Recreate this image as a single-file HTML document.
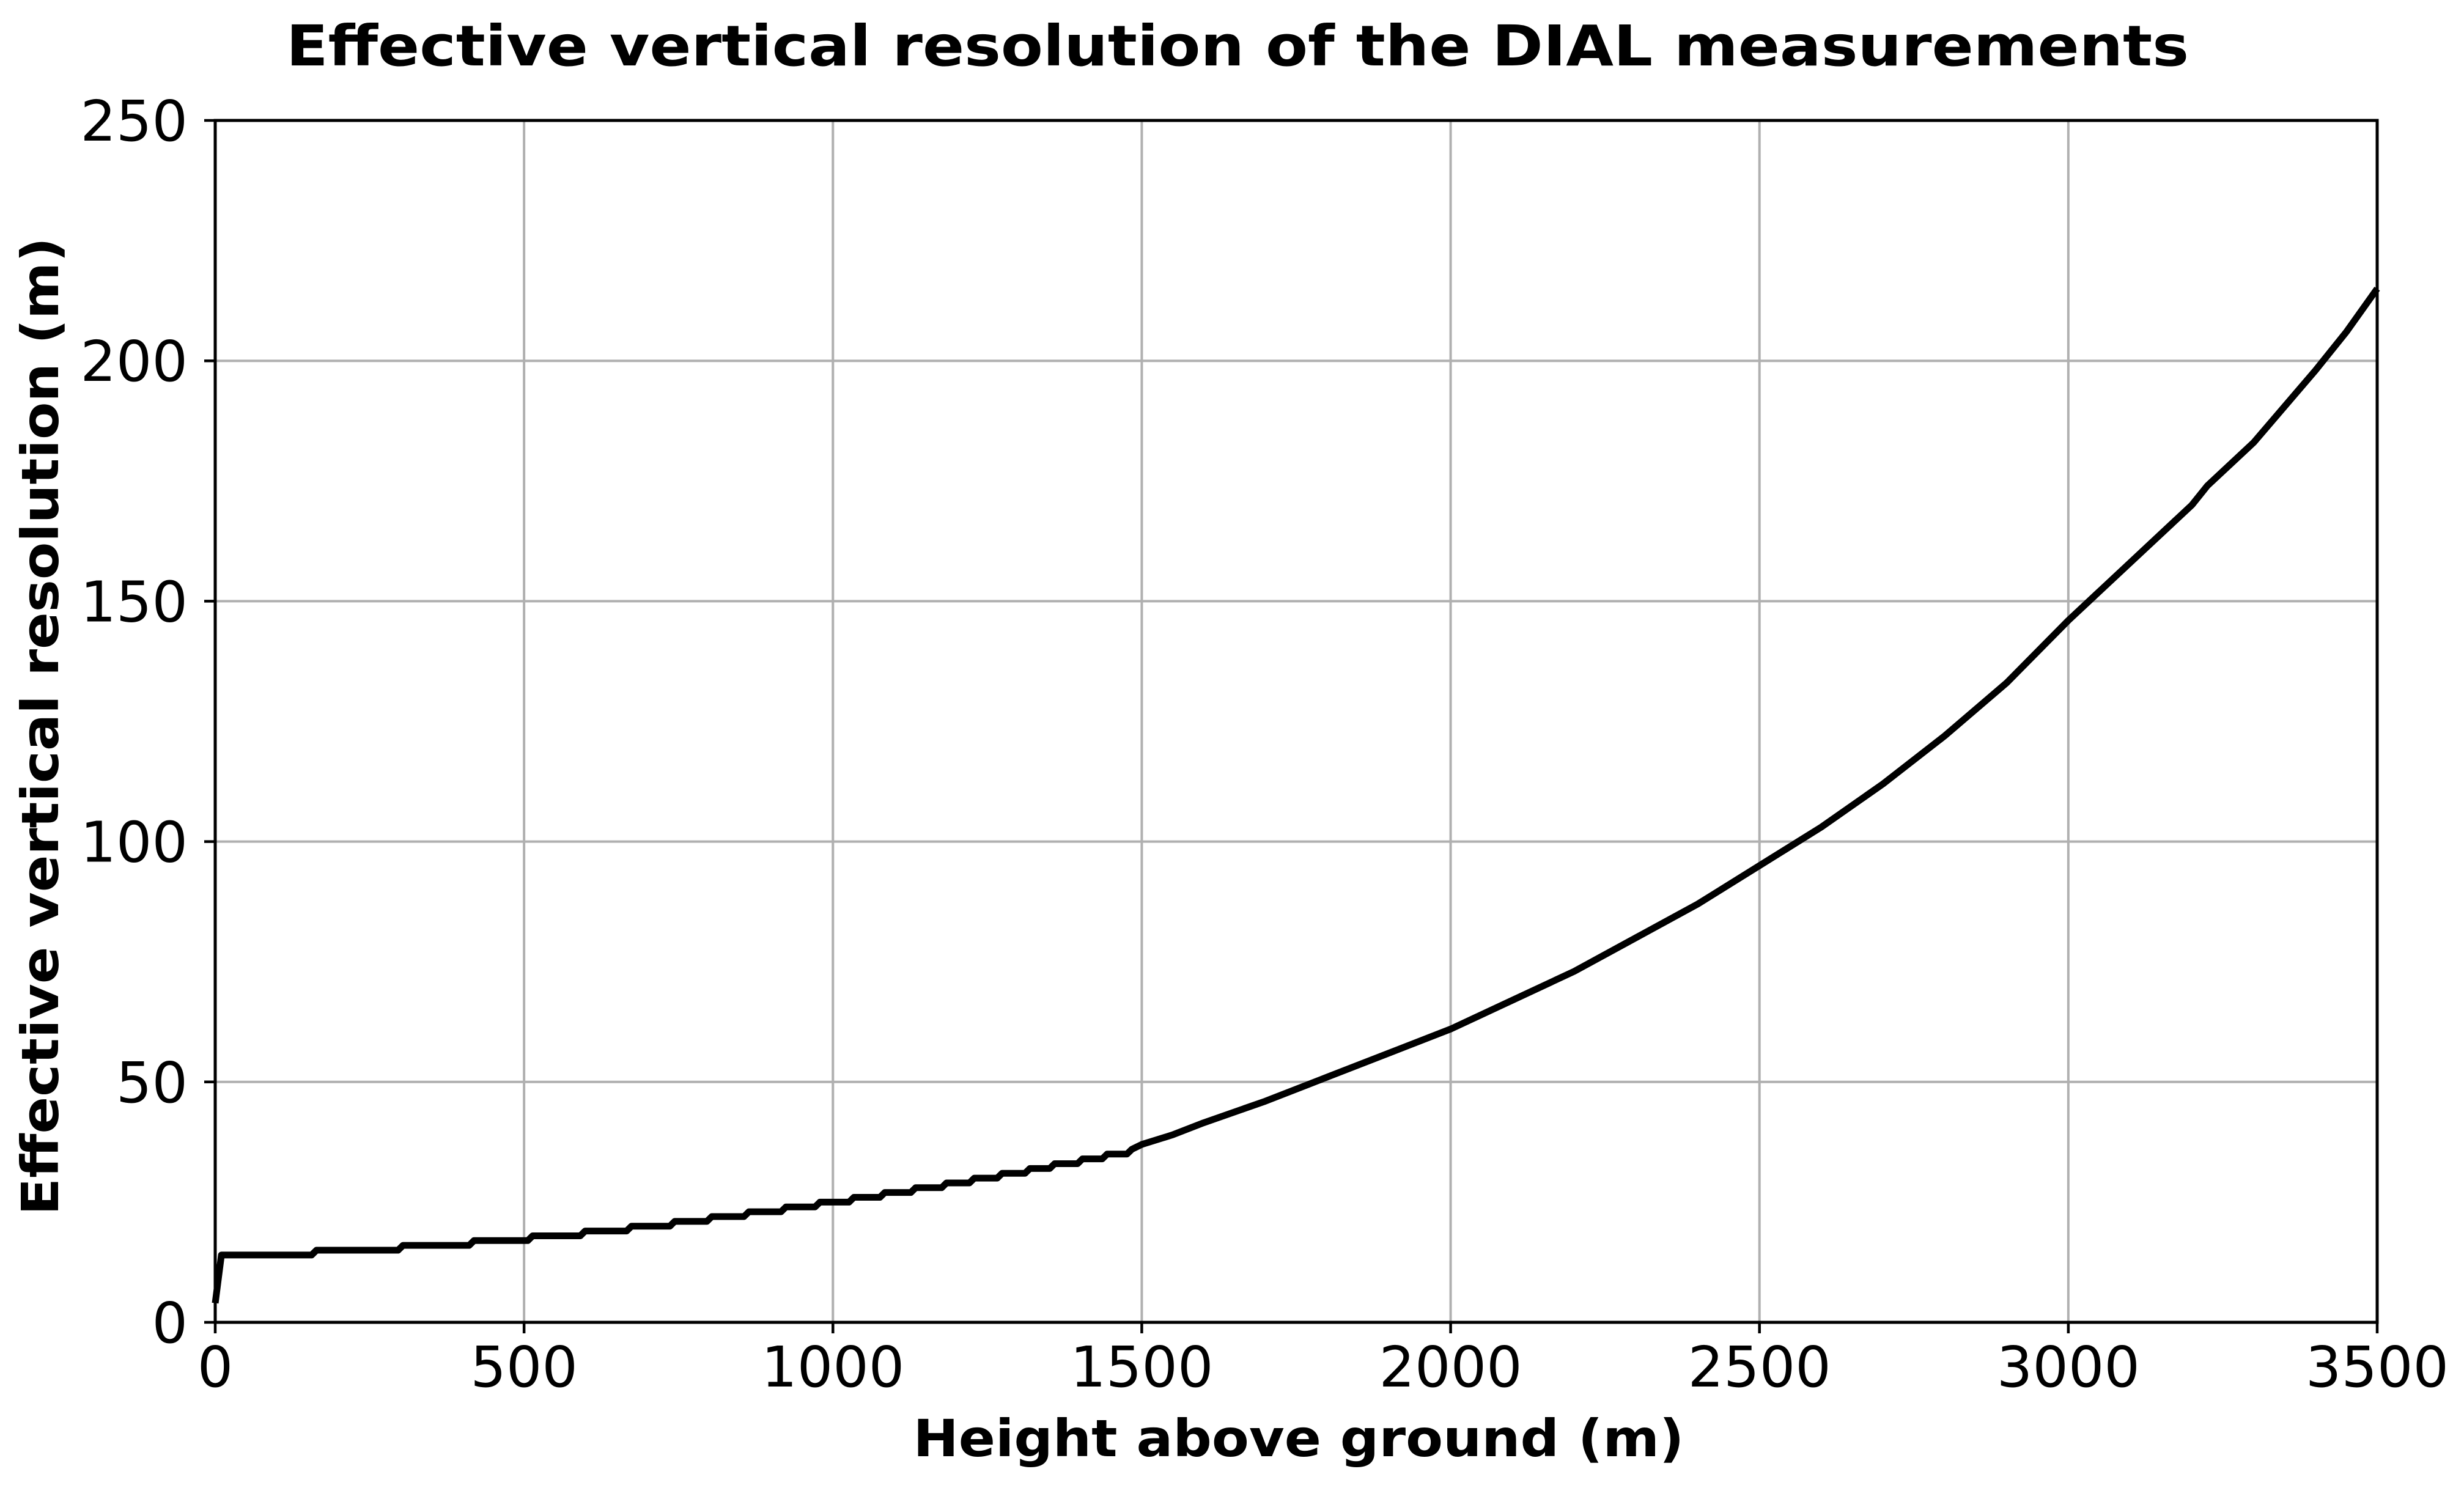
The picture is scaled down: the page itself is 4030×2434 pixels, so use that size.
<!DOCTYPE html>
<html><head><meta charset="utf-8"><style>
html,body{margin:0;padding:0;background:#fff;}
svg{display:block;font-family:"DejaVu Sans","Liberation Sans",sans-serif;}
</style></head><body>
<svg id="chart" width="4030" height="2434" viewBox="0 0 4030 2434" xmlns="http://www.w3.org/2000/svg">
<rect width="4030" height="2434" fill="#fff"/>
<text x="2024" y="107" text-anchor="middle" font-size="92" font-weight="bold" textLength="3112" lengthAdjust="spacingAndGlyphs">Effective vertical resolution of the DIAL measurements</text>
<text x="2124" y="2382" text-anchor="middle" font-size="84" font-weight="bold" textLength="1261" lengthAdjust="spacingAndGlyphs">Height above ground (m)</text>
<text transform="translate(95,1188) rotate(-90)" text-anchor="middle" font-size="84" font-weight="bold" textLength="1600" lengthAdjust="spacingAndGlyphs">Effective vertical resolution (m)</text>
<g id="grid"></g>
<g id="ticks"></g>
<g id="series"></g>
<rect x="352" y="197" width="3536" height="1966" fill="none" stroke="#000" stroke-width="5"/>
</svg>
<script>
const xTicks = [0,500,1000,1500,2000,2500,3000,3500];
const yTicks = [0,50,100,150,200,250];
const stepX = [10,160,300,415,510,595,670,740,800,860,920,975,1030,1080,1130,1180,1225,1270,1315,1355,1400,1440,1480];
const stepY = [14,15,16,17,18,19,20,21,22,23,24,25,26,27,28,29,30,31,32,33,34,35,36];
const curveX = [1500,1550,1600,1700,1800,1900,2000,2100,2200,2300,2400,2500,2600,2700,2800,2900,3000,3100,3200,3225,3300,3400,3450,3500];
const curveY = [37,39,41.5,46,51,56,61,67,73,80,87,95,103,112,122,133,146,158,170,174,183,198,206,215];
const startX = [0,10];
const startY = [4,14];

const L=352,R=3888,T=197,B=2163;
const X=v=>L+(v-0)/(3500-0)*(R-L);
const Y=v=>B-(v-0)/(250-0)*(B-T);
const NS='http://www.w3.org/2000/svg';
const grid=document.getElementById('grid'), ticks=document.getElementById('ticks'), series=document.getElementById('series');
function mk(tag,attrs,parent){const e=document.createElementNS(NS,tag);for(const k in attrs)e.setAttribute(k,attrs[k]);parent.appendChild(e);return e;}

xTicks.forEach(v=>{
  const gl=mk('line',{x1:X(v),x2:X(v),y1:T,y2:B,stroke:'#b0b0b0','stroke-width':4},grid);
  
  
  const tk=mk('line',{x1:X(v),x2:X(v),y1:B,y2:B+18,stroke:'#000','stroke-width':4.5},ticks);
  
  
  const t=mk('text',{x:X(v),y:2268,'text-anchor':'middle','font-size':92},ticks);
  
  
  t.textContent=v;
});
yTicks.forEach(v=>{
  const gl=mk('line',{x1:L,x2:R,y1:Y(v),y2:Y(v),stroke:'#b0b0b0','stroke-width':4},grid);
  
  
  const tk=mk('line',{x1:L-18,x2:L,y1:Y(v),y2:Y(v),stroke:'#000','stroke-width':4.5},ticks);
  
  
  const t=mk('text',{x:307,y:Y(v)+33,'text-anchor':'end','font-size':92},ticks);
  
  
  t.textContent=v;
});

let d='M'+X(startX[0])+','+Y(startY[0])+' L'+X(startX[1])+','+Y(startY[1]);
for(let i=1;i<stepX.length;i++){
  d+=' L'+(X(stepX[i])-4)+','+Y(stepY[i-1])+' L'+(X(stepX[i])+4)+','+Y(stepY[i]);
}
curveX.forEach((v,i)=>{d+=' L'+X(v)+','+Y(curveY[i]);});
const p=mk('path',{d:d,fill:'none',stroke:'#000','stroke-width':11,'stroke-linejoin':'round'},series);


</script>
</body></html>
